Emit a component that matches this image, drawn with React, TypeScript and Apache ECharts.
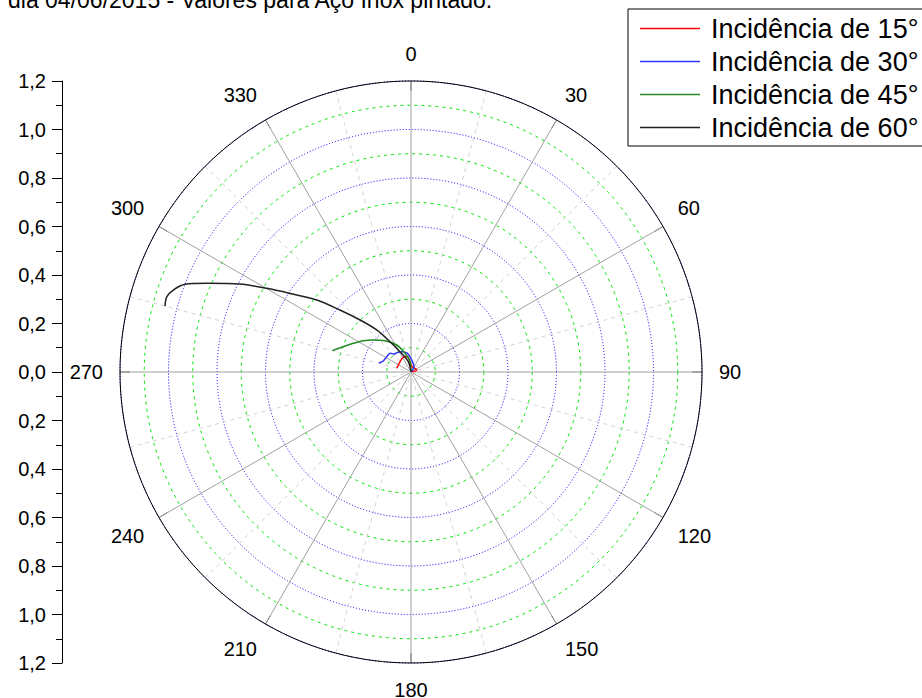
import React, { useEffect, useRef } from 'react';
import * as echarts from 'echarts';

const FONT = '"Liberation Sans", Arial, sans-serif';

const titleText = 'dia 04/06/2015 - Valores para Aço Inox pintado.';

const seriesNames = ['Incidência de 15°', 'Incidência de 30°', 'Incidência de 45°', 'Incidência de 60°'];
const seriesColors = ['#ff0000', '#3333ff', '#228b22', '#222222'];

// Incidência de 15° : radius / angle (deg, clockwise from 0 at top)
const r15 = [0.060, 0.060, 0.062, 0.067, 0.069, 0.063, 0.041, 0.025, 0.022, 0.025, 0.0];
const a15 = [284.8, 298.9, 313.1, 326.3, 338.8, 348.7, 354.0, 5.0, 47.0, 70.6, 0];

// Incidência de 30°
const r30 = [0.137, 0.123, 0.118, 0.116, 0.102, 0.098, 0.092, 0.079, 0.057, 0.025, 0.0];
const a30 = [285.7, 291.7, 302.2, 311.7, 316.6, 324.6, 335.4, 348.8, 359.0, 29.5, 0];

// Incidência de 45°
const r45 = [0.335, 0.298, 0.266, 0.235, 0.204, 0.168, 0.126, 0.081, 0.043, 0.0];
const a45 = [285.4, 290.5, 296.4, 303.3, 310.3, 320.3, 332.1, 342.2, 354.5, 0];

// Incidência de 60°
const r60 = [1.050, 1.054, 1.037, 1.000, 0.918, 0.793, 0.688, 0.595, 0.489, 0.389, 0.300, 0.224, 0.152, 0.095, 0.044, 0.0];
const a60 = [285.0, 287.1, 289.0, 291.2, 293.5, 297.2, 300.1, 303.0, 307.4, 311.1, 315.6, 320.8, 325.3, 331.5, 345.3, 0];

const angleMin = 0;
const angleMax = 360;
const angleStep = 30;
const radiusMin = 0;
const radiusMax = 1.2;
const radiusStep = 0.1;
const leftAxisMin = -1.2;
const leftAxisMax = 1.2;
const leftAxisStep = 0.2;

const seriesRadii = [r15, r30, r45, r60];
const seriesAngles = [a15, a30, a45, a60];

export default function App() {
  const ref = useRef<HTMLDivElement>(null);

  useEffect(() => {
    document.body.style.margin = '0';
    const chart = echarts.init(ref.current as HTMLDivElement, null, { renderer: 'svg' });
    const center = [411, 372];
    const R = 291;

    const radiusAxisBase = {
      type: 'value',
      min: radiusMin,
      max: radiusMax,
      interval: radiusStep,
      axisLine: { show: false },
      axisTick: { show: false },
      axisLabel: { show: false },
    };

    const series = seriesNames.map((name, i) => ({
      name,
      type: 'line',
      coordinateSystem: 'polar',
      polarIndex: 0,
      symbol: 'none',
      smooth: 0.3,
      z: 10,
      lineStyle: { color: seriesColors[i], width: 1.5 },
      itemStyle: { color: seriesColors[i] },
      data: seriesRadii[i].map((r, k) => [r, seriesAngles[i][k]]),
    }));

    chart.setOption({
      animation: false,
      backgroundColor: '#ffffff',
      title: {
        text: titleText,
        left: 8,
        top: -12,
        padding: 0,
        textStyle: { fontSize: 23, fontWeight: 'normal', fontFamily: FONT, color: '#000' },
      },
      legend: {
        left: 628,
        top: 9,
        orient: 'vertical',
        padding: [6, 12, 5, 12],
        itemGap: 6,
        itemWidth: 60,
        itemHeight: 1.5,
        icon: 'rect',
        borderColor: '#000',
        borderWidth: 1,
        backgroundColor: '#fff',
        textStyle: { fontSize: 27, lineHeight: 26, fontFamily: FONT, color: '#000', padding: [0, 0, 0, 6] },
        data: seriesNames,
      },
      polar: [
        { center, radius: R },
        { center, radius: R },
      ],
      angleAxis: [
        {
          polarIndex: 0,
          type: 'value',
          min: angleMin,
          max: angleMax,
          interval: angleStep,
          startAngle: 90,
          clockwise: true,
          z: 3,
          axisLine: { show: true, lineStyle: { color: '#000', width: 1 } },
          axisTick: { show: true, inside: true, length: 10, lineStyle: { color: '#555', width: 1 } },
          axisLabel: { show: true, margin: 17, fontSize: 20, fontFamily: FONT, color: '#000' },
          splitLine: { show: true, lineStyle: { color: '#a0a0a0', width: 1, type: 'solid' } },
          minorTick: { show: false, splitNumber: 2 },
          minorSplitLine: { show: true, lineStyle: { color: '#d4d4d4', width: 1, type: [4, 4] } },
        },
        {
          polarIndex: 1,
          type: 'value',
          min: angleMin,
          max: angleMax,
          interval: angleStep,
          startAngle: 90,
          axisLine: { show: false },
          axisTick: { show: false },
          axisLabel: { show: false },
          splitLine: { show: false },
        },
      ],
      radiusAxis: [
        {
          ...radiusAxisBase,
          polarIndex: 0,
          z: 1,
          splitLine: { show: true, lineStyle: { color: ['#0000ff', 'transparent'], width: 1, type: [1, 2] } },
        },
        {
          ...radiusAxisBase,
          polarIndex: 1,
          z: 1,
          splitLine: { show: true, lineStyle: { color: ['transparent', '#00e600'], width: 1, type: [3, 4] } },
        },
      ],
      grid: { left: 62, top: 81, width: 1, height: 582 },
      xAxis: { type: 'value', show: false, min: 0, max: 1 },
      yAxis: {
        type: 'value',
        min: leftAxisMin,
        max: leftAxisMax,
        interval: leftAxisStep,
        axisLine: { show: true, lineStyle: { color: '#000', width: 1 } },
        axisTick: { show: true, inside: false, length: 10, lineStyle: { color: '#000', width: 1 } },
        minorTick: { show: true, splitNumber: 2, length: 6, lineStyle: { color: '#000', width: 1 } },
        splitLine: { show: false },
        minorSplitLine: { show: false },
        axisLabel: {
          margin: 16,
          fontSize: 20,
          fontFamily: FONT,
          color: '#000',
          formatter: (v: number) => Math.abs(v).toFixed(1).replace('.', ','),
        },
      },
      series,
    });

    return () => chart.dispose();
  }, []);

  return <div ref={ref} style={{ width: 922, height: 698 }} />;
}
